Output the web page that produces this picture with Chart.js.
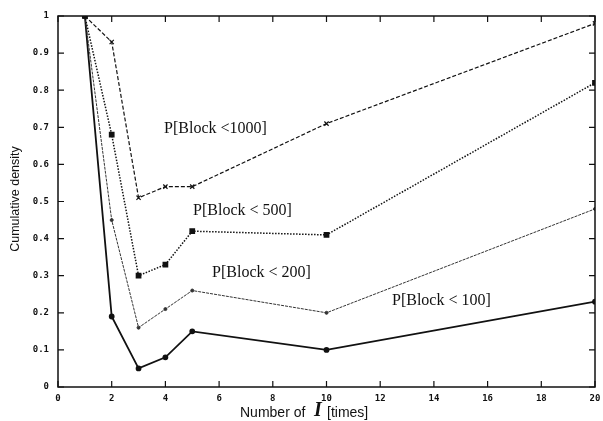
<!DOCTYPE html>
<html>
<head>
<meta charset="utf-8">
<script src="https://cdn.jsdelivr.net/npm/chart.js@4.4.1/dist/chart.umd.min.js"></script>
<style>
  html, body { margin: 0; padding: 0; background: #fff; }
  #wrap { width: 603px; height: 421px; }
</style>
</head>
<body>
<div id="wrap"><canvas id="cdf"></canvas></div>
<script>
// number of I (times)
const xValues = [1, 2, 3, 4, 5, 10, 20];
// cumulative density per block threshold
const block1000 = [1.0, 0.93, 0.51, 0.54, 0.54, 0.71, 0.98];
const block500 = [1.0, 0.68, 0.30, 0.33, 0.42, 0.41, 0.82];
const block200 = [1.0, 0.45, 0.16, 0.21, 0.26, 0.20, 0.48];
const block100 = [1.0, 0.19, 0.05, 0.08, 0.15, 0.10, 0.23];
const xTicks = [0, 2, 4, 6, 8, 10, 12, 14, 16, 18, 20];
const yTicks = [0, 0.1, 0.2, 0.3, 0.4, 0.5, 0.6, 0.7, 0.8, 0.9, 1];
// curve labels, placed in data units
const curveLabels = [
  { text: 'P[Block <1000]', x: 3.95, y: 0.695 },
  { text: 'P[Block < 500]', x: 5.03, y: 0.474 },
  { text: 'P[Block < 200]', x: 5.74, y: 0.307 },
  { text: 'P[Block < 100]', x: 12.44, y: 0.232 }
];

function toPoints(ys) {
  return xValues.map(function(x, i) { return { x: x, y: ys[i] }; });
}

const ink = '#111';

const frameAndLabels = {
  id: 'frameAndLabels',
  afterDraw: function(chart) {
    const ctx = chart.ctx;
    const a = chart.chartArea;
    const xs = chart.scales.x, ys = chart.scales.y;
    ctx.save();
    ctx.strokeStyle = ink;
    ctx.lineWidth = 1.5;
    ctx.strokeRect(a.left, a.top, a.right - a.left, a.bottom - a.top);
    // inward ticks, mirrored
    ctx.lineWidth = 1.2;
    ctx.beginPath();
    xTicks.forEach(function(v) {
      const px = xs.getPixelForValue(v);
      ctx.moveTo(px, a.bottom); ctx.lineTo(px, a.bottom - 6);
      ctx.moveTo(px, a.top); ctx.lineTo(px, a.top + 6);
    });
    yTicks.forEach(function(v) {
      const py = ys.getPixelForValue(v);
      ctx.moveTo(a.left, py); ctx.lineTo(a.left + 6, py);
      ctx.moveTo(a.right, py); ctx.lineTo(a.right - 6, py);
    });
    ctx.stroke();

    // curve labels
    ctx.fillStyle = ink;
    ctx.font = '16px "Liberation Serif"';
    ctx.textBaseline = 'middle';
    ctx.textAlign = 'left';
    curveLabels.forEach(function(l) {
      ctx.fillText(l.text, xs.getPixelForValue(l.x), ys.getPixelForValue(l.y));
    });

    // y title
    ctx.font = '12.5px "Liberation Sans"';
    ctx.textAlign = 'center';
    ctx.save();
    ctx.translate(16, 199);
    ctx.rotate(-Math.PI / 2);
    ctx.fillText('Cumulative density', 0, 0);
    ctx.restore();

    // x title with italic I
    ctx.textAlign = 'left';
    ctx.font = '14px "Liberation Sans"';
    let x0 = 240;
    ctx.fillText('Number of', x0, 413);
    ctx.font = 'italic bold 20px "Liberation Serif"';
    ctx.fillText('I', 314, 411);
    ctx.font = '14px "Liberation Sans"';
    ctx.fillText('[times]', 327, 413);
    ctx.restore();
  }
};

const tickFont = { family: '"DejaVu Sans Mono"', size: 9, weight: 'bold' };

new Chart(document.getElementById('cdf'), {
  type: 'line',
  data: {
    datasets: [
      {
        label: 'P[Block <1000]',
        data: toPoints(block1000),
        borderColor: ink, backgroundColor: ink,
        borderWidth: 1.2, borderDash: [4, 2],
        pointStyle: 'crossRot', pointRadius: 3, pointBorderWidth: 1.2
      },
      {
        label: 'P[Block < 500]',
        data: toPoints(block500),
        borderColor: ink, backgroundColor: ink,
        borderWidth: 1.5, borderDash: [1.5, 1.5],
        pointStyle: 'rect', pointRadius: 3
      },
      {
        label: 'P[Block < 200]',
        data: toPoints(block200),
        borderColor: '#333', backgroundColor: '#333',
        borderWidth: 1, borderDash: [3, 1],
        pointStyle: 'circle', pointRadius: 1.5
      },
      {
        label: 'P[Block < 100]',
        data: toPoints(block100),
        borderColor: ink, backgroundColor: ink,
        borderWidth: 1.8,
        pointStyle: 'circle', pointRadius: 2
      }
    ]
  },
  options: {
    responsive: true,
    maintainAspectRatio: false,
    animation: false,
    layout: { padding: { top: 16, right: 8, left: 0, bottom: 0 } },
    plugins: { legend: { display: false }, tooltip: { enabled: false } },
    elements: { line: { tension: 0 } },
    scales: {
      x: {
        type: 'linear', min: 0, max: 20,
        afterFit: function(s) { s.height = 34; },
        afterBuildTicks: function(s) { s.ticks = xTicks.map(function(v) { return { value: v }; }); },
        grid: { display: false },
        border: { display: false },
        ticks: { color: ink, font: tickFont, padding: -2, maxRotation: 0 }
      },
      y: {
        type: 'linear', min: 0, max: 1,
        afterFit: function(s) { s.width = 58; },
        afterBuildTicks: function(s) { s.ticks = yTicks.map(function(v) { return { value: v }; }); },
        grid: { display: false },
        border: { display: false },
        ticks: {
          color: ink, font: tickFont, padding: 1,
          callback: function(v) { return (v === 0 || v === 1) ? String(v) : v.toFixed(1); }
        }
      }
    }
  },
  plugins: [frameAndLabels]
});
</script>
</body>
</html>
